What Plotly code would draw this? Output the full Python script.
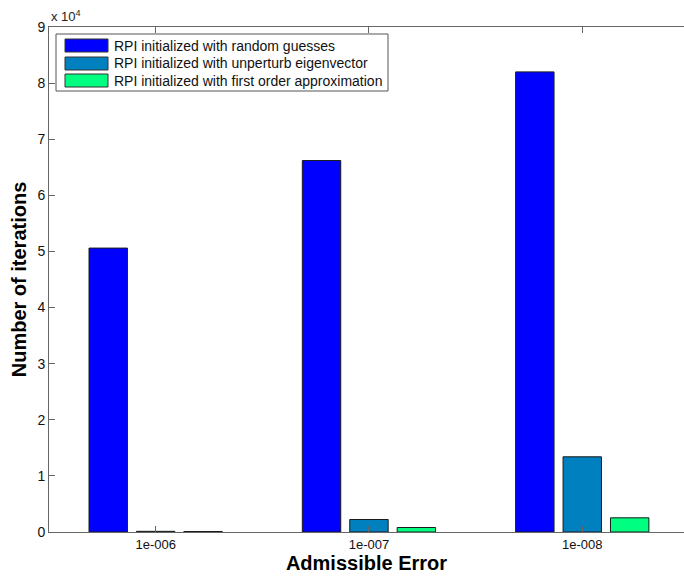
import plotly.graph_objects as go

categories = ["1e-006", "1e-007", "1e-008"]
cat_pos = [1, 2, 3]
random_guess = [50600, 66200, 82000]
unperturb_eig = [120, 2230, 13400]
first_order = [90, 800, 2530]
y_tickvals = [0, 10000, 20000, 30000, 40000, 50000, 60000, 70000, 80000, 90000]
y_ticktext = ["0", "1", "2", "3", "4", "5", "6", "7", "8", "9"]
series_names = [
    "RPI initialized with random guesses",
    "RPI initialized with unperturb eigenvector",
    "RPI initialized with first order approximation",
]
series_values = [random_guess, unperturb_eig, first_order]
series_colors = ["#0000FF", "#0080BF", "#00FF80"]

FONT = "Liberation Sans, Arial, sans-serif"
W, H = 684, 579
ML, MR, MT, MB = 49, 0, 27, 47
PW, PH = W - ML - MR, H - MT - MB


def px_x(px):
    return (px - ML) / PW


def px_y(py):
    return 1 - (py - MT) / PH


fig = go.Figure()
for name, vals, col in zip(series_names, series_values, series_colors):
    fig.add_trace(go.Bar(
        x=cat_pos, y=vals, name=name,
        marker=dict(color=col, line=dict(color="#1a1a1a", width=1)),
    ))

# legend drawn as a MATLAB-style box with wide patches
shapes = [dict(type="rect", xref="paper", yref="paper",
               x0=px_x(56), x1=px_x(388), y0=px_y(91), y1=px_y(34),
               line=dict(color="#555555", width=1), fillcolor="white", layer="above")]
annotations = []
row_tops = [39, 57, 74]
for name, col, top in zip(series_names, series_colors, row_tops):
    shapes.append(dict(type="rect", xref="paper", yref="paper",
                       x0=px_x(65), x1=px_x(108), y0=px_y(top + 13), y1=px_y(top),
                       line=dict(color="#333333", width=1), fillcolor=col, layer="above"))
    annotations.append(dict(text=name, xref="paper", yref="paper",
                            x=px_x(112), y=px_y(top + 6.5), xanchor="left", yanchor="middle",
                            showarrow=False,
                            font=dict(family=FONT, size=14, color="#111111")))

annotations.append(dict(
    text="x 10<sup>4</sup>", xref="paper", yref="paper", x=0, y=1,
    xanchor="left", yanchor="bottom", showarrow=False, yshift=1,
    font=dict(family=FONT, size=13, color="#222222"),
))

fig.update_layout(
    width=W, height=H,
    margin=dict(l=ML, r=MR, t=MT, b=MB),
    paper_bgcolor="white", plot_bgcolor="white",
    barmode="group", bargap=0.333, bargroupgap=0.19,
    font=dict(family=FONT, size=13, color="#222222"),
    showlegend=False,
    xaxis=dict(
        range=[0.5, 3.477], tickmode="array", tickvals=cat_pos, ticktext=categories,
        showline=True, linecolor="#666666", linewidth=1, mirror="ticks",
        ticks="inside", ticklen=6, tickcolor="#666666",
        showgrid=False, zeroline=False,
        tickfont=dict(family=FONT, size=13, color="#111111"),
        title=dict(text="<b>Admissible Error</b>", standoff=4,
                   font=dict(family=FONT, size=20, color="#000000")),
    ),
    yaxis=dict(
        range=[0, 90000], tickmode="array", tickvals=y_tickvals, ticktext=y_ticktext,
        showline=True, linecolor="#666666", linewidth=1,
        ticks="inside", ticklen=6, tickcolor="#666666",
        showgrid=False, zeroline=False,
        tickfont=dict(family=FONT, size=14, color="#111111"),
        title=dict(text="<b>Number of iterations</b>", standoff=5,
                   font=dict(family=FONT, size=20, color="#000000")),
    ),
    shapes=shapes,
    annotations=annotations,
)

fig.write_html("out.html", config={"displayModeBar": False},
               post_script="document.body.style.margin='0px';")
